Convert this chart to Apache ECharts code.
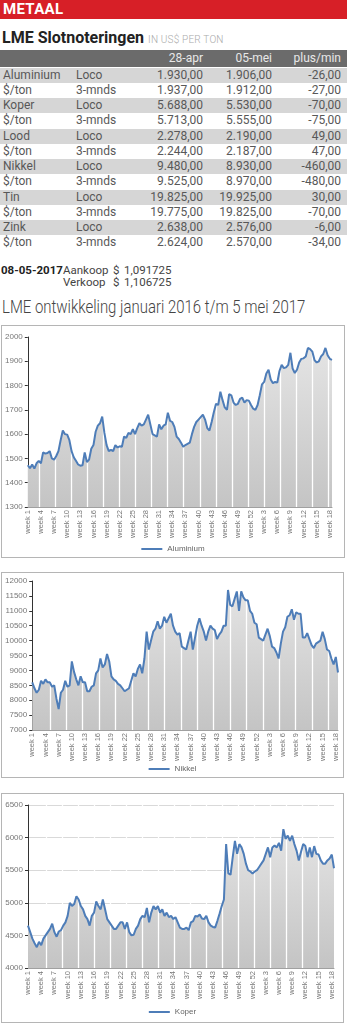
<!DOCTYPE html>
<html><head><meta charset="utf-8">
<script src="https://cdn.jsdelivr.net/npm/echarts@6.0.0/dist/echarts.min.js"></script>
<style>
html,body{margin:0;padding:0;background:#fff;}
body{width:347px;height:1024px;position:relative;overflow:hidden;font-family:Roboto,"Liberation Sans",sans-serif;}
.redbar{position:absolute;left:0;top:0;width:347px;height:19px;background:#d71f27;}
.redbar span{position:absolute;left:3px;top:0;line-height:19px;font-size:15px;font-weight:bold;color:#fff;letter-spacing:0.3px;}
.h1{position:absolute;left:2px;top:28px;font-size:16px;font-weight:bold;color:#222;white-space:nowrap;}
.h1 small{font-size:10px;font-weight:300;color:#aaa;letter-spacing:0.2px;}
.row{position:absolute;left:0;width:347px;font-size:12px;color:#585858;white-space:nowrap;}
.row span{position:absolute;top:0;}
.hdr{background:#6b6b6b;color:#e8e8e8;}
.c1{left:3px}.c2{left:76px}.c3{right:144px}.c4{right:75px}.c5{right:6px}
.fx{position:absolute;font-size:11.5px;color:#444;white-space:nowrap;}
.title{position:absolute;left:2px;top:296px;font-size:18px;font-weight:300;color:#444;white-space:nowrap;font-family:Roboto,sans-serif;transform:scaleX(0.83);transform-origin:0 0;}
.box{position:absolute;border:1px solid #b5b5b5;background:#fff;}
</style></head>
<body>
<div class="redbar"><span>METAAL</span></div>
<div class="h1">LME Slotnoteringen <small>IN US$ PER TON</small></div>
<div id="table"></div>
<div class="fx" style="left:1px;top:263px;font-weight:bold;color:#222;">08-05-2017</div>
<div class="fx" style="left:63px;top:263px;">Aankoop</div>
<div class="fx" style="left:113px;top:263px;">$</div>
<div class="fx" style="left:124px;top:263px;" id="buy"></div>
<div class="fx" style="left:63px;top:275px;">Verkoop</div>
<div class="fx" style="left:113px;top:275px;">$</div>
<div class="fx" style="left:124px;top:275px;" id="sell"></div>
<div class="title">LME ontwikkeling januari 2016 t/m 5 mei 2017</div>
<div class="box" id="c1" style="left:1px;top:325px;width:342px;height:231px;"></div>
<div class="box" id="c2" style="left:1px;top:572px;width:341px;height:204px;"></div>
<div class="box" id="c3" style="left:1px;top:793px;width:341px;height:228px;"></div>
<script>
// ---------- table data ----------
const tableHeader = ['', '', '28-apr', '05-mei', 'plus/min'];
const rowLabels = ['Aluminium','$/ton','Koper','$/ton','Lood','$/ton','Nikkel','$/ton','Tin','$/ton','Zink','$/ton'];
const rowTypes = ['Loco','3-mnds','Loco','3-mnds','Loco','3-mnds','Loco','3-mnds','Loco','3-mnds','Loco','3-mnds'];
const pricePrev = ['1.930,00','1.937,00','5.688,00','5.713,00','2.278,00','2.244,00','9.480,00','9.525,00','19.825,00','19.775,00','2.638,00','2.624,00'];
const priceCurr = ['1.906,00','1.912,00','5.530,00','5.555,00','2.190,00','2.187,00','8.930,00','8.970,00','19.925,00','19.825,00','2.576,00','2.570,00'];
const priceDiff = ['-26,00','-27,00','-70,00','-75,00','49,00','47,00','-460,00','-480,00','30,00','-70,00','-6,00','-34,00'];
const fxBuy = '1,091725';
const fxSell = '1,106725';

// ---------- chart data (2 readings per week, week 1 2016 .. week 18 2017) ----------
const xTickLabels = ['week 1','week 4','week 7','week 10','week 13','week 16','week 19','week 22','week 25','week 28','week 31','week 34','week 37','week 40','week 43','week 46','week 49','week 52','week 3','week 6','week 9','week 12','week 15','week 18'];
const pointsPerLabel = 6;

const aluminium = [1472,1460,1475,1458,1480,1490,1480,1525,1520,1522,1530,1500,1495,1510,1530,1575,1615,1600,1598,1575,
1530,1505,1490,1475,1470,1472,1525,1485,1495,1540,1555,1610,1635,1645,1672,1605,1555,1530,1535,1530,
1555,1545,1550,1548,1590,1585,1605,1600,1620,1600,1625,1645,1635,1640,1660,1680,1640,1600,1595,1590,
1640,1620,1635,1640,1688,1655,1650,1630,1590,1580,1565,1548,1555,1560,1565,1600,1630,1650,1660,1670,
1680,1660,1625,1615,1650,1690,1725,1720,1775,1740,1710,1700,1765,1760,1730,1720,1725,1745,1750,1730,
1740,1738,1720,1705,1700,1720,1760,1805,1815,1850,1865,1825,1810,1815,1812,1860,1885,1872,1875,1885,
1935,1870,1852,1865,1895,1910,1912,1920,1955,1950,1940,1905,1895,1900,1920,1930,1955,1925,1910,1906];

const nikkel = [8600,8400, 8250,8350, 8650,8550, 8700,8600, 8600,8450, 8500,8050, 7700,8250, 8350,8650, 8450,8500, 9300,8950,
8700,8500, 8800,8600, 8600,8300, 8300,8450, 8500,8900, 9000,9400, 9100,9200, 9550,9300, 8800,8700, 8650,8550,
8500,8400, 8300,8350, 8400,8650, 8900,8800, 9050,9200, 8900,9400, 10300,9700, 10000,10300, 10400,10650, 10400,10500,
10800,10600, 10750,10900, 10500,10300, 10200,10250, 9800,9750, 9700,10000, 10300,9700, 10100,10500, 10750,10500, 10300,10000,
10300,10500, 10400,10350, 10050,10200, 10300,10500, 10500,11700, 11200,11150, 11400,11650, 11000,11650, 11450,11350, 11350,11000,
10900,10600, 10550,10100, 10050,10000, 10200,10400, 10150,9800, 9750,9600, 9400,9900, 10300,10450, 10800,10850, 11050,10700,
10950,10900, 10900,10100, 10100,10250, 10050,9850, 9750,9900, 9950,10000, 10300,10050, 9700,9650, 9400,9200, 9450,8930];

const koper = [4650,4550, 4450,4380, 4320,4400, 4350,4450, 4500,4550, 4600,4680, 4550,4480, 4560,4580, 4650,4700, 4800,5000,
4950,4980, 5100,5050, 4950,4900, 4800,4750, 4650,4800, 4850,5020, 4950,4900, 5050,4900, 4750,4700, 4650,4600,
4600,4650, 4700,4700, 4600,4700, 4550,4500, 4510,4600, 4650,4750, 4800,4780, 4920,4700, 4850,4950, 4900,4950,
4850,4900, 4800,4850, 4780,4800, 4750,4780, 4700,4620, 4600,4600, 4620,4580, 4700,4720, 4800,4790, 4820,4760,
4750,4800, 4700,4650, 4630,4620, 4720,4830, 4950,5050, 5900,5450, 5430,5700, 5950,5750, 5900,5850, 5750,5600,
5500,5480, 5450,5480, 5500,5550, 5600,5650, 5750,5850, 5700,5850, 5880,5850, 5920,5800, 6130,5980, 6030,5950,
6030,5900, 5800,5650, 5780,5900, 5870,5700, 5850,5700, 5870,5750, 5740,5650, 5600,5600, 5650,5680, 5740,5530];

// ---------- table rendering ----------
const tbl = document.getElementById('table');
function addRow(cells, top, h, cls, bg){
  const r = document.createElement('div');
  r.className = 'row ' + (cls||'');
  r.style.top = top + 'px'; r.style.height = h + 'px'; r.style.lineHeight = h + 'px';
  if (bg) r.style.background = bg;
  r.innerHTML = cells.map((c,i)=>'<span class="c'+(i+1)+'">'+c+'</span>').join('');
  tbl.appendChild(r);
}
addRow(tableHeader, 50, 17, 'hdr');
const ROW_H = 15.25;
rowLabels.forEach((lab,i)=>{
  addRow([lab,rowTypes[i],pricePrev[i],priceCurr[i],priceDiff[i]], 67.5 + i*ROW_H, ROW_H, '', i%2===0 ? '#d6d6d6' : '#fff');
});
document.getElementById('buy').textContent = fxBuy;
document.getElementById('sell').textContent = fxSell;

// ---------- charts ----------
function makeChart(id, name, values, y, grid, legendTop, gridLines, white){
  const chart = echarts.init(document.getElementById(id), null, {renderer:'canvas'});
  const pts = values.map((v,i)=>[i,v]);
  const n = values.length;
  const whiteLines = [];
  for (let x = white.start; x < n - 1; x += white.step) whiteLines.push({xAxis: x});
  chart.setOption({
    animation:false,
    grid: Object.assign({containLabel:false}, grid),
    legend:{data:[name], top:legendTop, left:'center', icon:'rect', itemWidth:21, itemHeight:2,
      itemGap:4, textStyle:{fontSize:8, color:'#666', fontFamily:'Liberation Sans'}},
    xAxis:{type:'value', min:0, max:n-1, interval:pointsPerLabel,
      axisLine:{show:true, lineStyle:{color:'#a0a0a0', width:1}},
      axisTick:{show:false}, splitLine:{show:false},
      axisLabel:{rotate:90, fontSize:7.5, color:'#777', margin:3, fontFamily:'Liberation Sans',
        showMaxLabel:false,
        formatter:v=> (v % pointsPerLabel === 0 ? (xTickLabels[v/pointsPerLabel] || '') : '')}},
    yAxis:{type:'value', min:y.min, max:y.max, interval:y.step,
      axisLine:{show:true, lineStyle:{color:'#333', width:1}},
      axisTick:{show:true, length:3, lineStyle:{color:'#333'}},
      splitLine:{show:gridLines, lineStyle:{color:'#d9d9d9', width:1}},
      axisLabel:{fontSize:8, color:'#777', margin:5, fontFamily:'Liberation Sans', formatter:v=>String(v)}},
    series:[
      {type:'line', name:'area', data:pts, symbol:'none', z:1, lineStyle:{width:0},
        areaStyle:{opacity:1, color:new echarts.graphic.LinearGradient(0,0,0,1,[{offset:0,color:'#e4e4e4'},{offset:1,color:'#c4c4c4'}])},
        markLine:{silent:true, symbol:'none', animation:false, label:{show:false},
          lineStyle:{color:'#ffffff', width:1.3, type:'solid'}, data: whiteLines}},
      {type:'line', name:name, data:pts, symbol:'none', z:5,
        lineStyle:{color:'#4e7db8', width:2}, itemStyle:{color:'#4e7db8'}}
    ]
  });
}
makeChart('c1','Aluminium',aluminium,{min:1300,max:2000,step:100},
  {left:24, top:11, right:12, bottom:50}, 214, false, {start:5.1, step:7.35});
makeChart('c2','Nikkel',nikkel,{min:7000,max:12000,step:500},
  {left:30, top:8, right:5, bottom:47}, 187, false, {start:8.0, step:7.45});
makeChart('c3','Koper',koper,{min:4000,max:6500,step:500},
  {left:26, top:11, right:9, bottom:54}, 209, true, {start:8.5, step:7.25});
</script>
</body></html>
